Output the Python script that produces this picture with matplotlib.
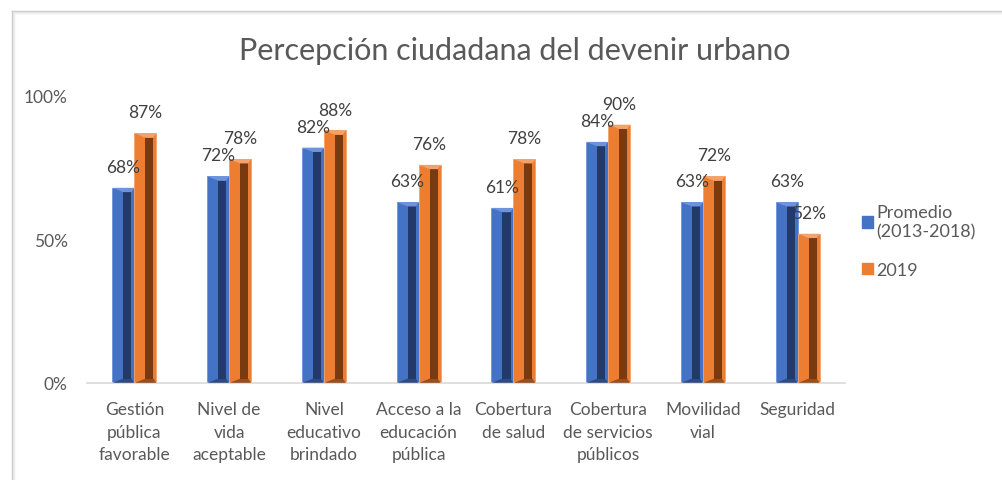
import numpy as np
import matplotlib
matplotlib.use('Agg')
import matplotlib.pyplot as plt
from matplotlib.patches import Polygon, Rectangle
from matplotlib.lines import Line2D

categorias = ['Gestión\npública\nfavorable', 'Nivel de\nvida\naceptable', 'Nivel\neducativo\nbrindado',
              'Acceso a la\neducación\npública', 'Cobertura\nde salud', 'Cobertura\nde servicios\npúblicos',
              'Movilidad\nvial', 'Seguridad']
promedio = [68, 72, 82, 63, 61, 84, 63, 63]
anio_2019 = [87, 78, 88, 76, 78, 90, 72, 52]
series = ['Promedio\n(2013-2018)', '2019']

plt.rcParams['font.family'] = ['Lato', 'DejaVu Sans']
gris = '#595959'

fig = plt.figure(figsize=(10.03, 4.81), dpi=100)
ax = fig.add_axes([0.0867, 0.2017, 0.7558, 0.5967])

x = np.arange(len(categorias))
w = 0.232

def bevel_bars(xs, vals, base, dark, light, label):
    bars = ax.bar(xs, vals, w, color=base, edgecolor=light, linewidth=0.6, label=label, zorder=2)
    for b, v in zip(bars, vals):
        x0 = b.get_x()
        d = 1.5
        # inner dark face
        ax.add_patch(Rectangle((x0 + 0.5 * w, d), 0.37 * w, v - 2 * d, color=dark, zorder=3, lw=0))
        # top facet
        ax.add_patch(Polygon([(x0, v), (x0 + w, v), (x0 + 0.87 * w, v - d), (x0 + 0.5 * w, v - d)],
                             closed=True, color=light, zorder=3, lw=0))
        # bottom facet
        ax.add_patch(Polygon([(x0, 0), (x0 + w, 0), (x0 + 0.87 * w, d), (x0 + 0.5 * w, d)],
                             closed=True, color=dark, alpha=0.7, zorder=3, lw=0))
        ax.annotate(f'{v}%', (b.get_x() + w / 2, v), xytext=(0, 15), textcoords='offset points',
                    ha='center', va='center', fontsize=12.5, color='#404040', zorder=5)
    return bars

b1 = bevel_bars(x - w / 2, promedio, '#4472C4', '#22396A', '#6D94DB', series[0])
b2 = bevel_bars(x + w / 2, anio_2019, '#ED7D31', '#7A3A10', '#F4A26B', series[1])

ax.set_xlim(-0.5, len(categorias) - 0.5)
ax.set_ylim(0, 100)
ax.set_yticks([0, 50, 100])
ax.set_yticklabels(['0%', '50%', '100%'])
ax.set_xticks(x)
ax.set_xticklabels(categorias, linespacing=1.5)
ax.tick_params(axis='both', length=0, labelsize=12.5, colors=gris)
ax.tick_params(axis='y', pad=14)
ax.tick_params(axis='x', pad=13)
for s in ['top', 'right', 'left']:
    ax.spines[s].set_visible(False)
ax.spines['bottom'].set_color('#d9d9d9')
ax.spines['bottom'].set_linewidth(1.2)

fig.text(0.513, 0.893, 'Percepción ciudadana del devenir urbano', ha='center', va='center',
         fontsize=22, color=gris)

h1 = Rectangle((0, 0), 1, 1, color='#4472C4')
h2 = Rectangle((0, 0), 1, 1, color='#ED7D31')
leg = fig.legend([h1, h2], series, loc='upper left', bbox_to_anchor=(0.843, 0.607),
                 frameon=False, handlelength=0.6, handleheight=0.6, handletextpad=0.2,
                 labelspacing=1.25, fontsize=13)
for t in leg.get_texts():
    t.set_color(gris)

# chart frame
for i, c in enumerate(['#c8c8c8', '#e2e2e2', '#efefef', '#f7f7f7']):
    fig.add_artist(Line2D([0.0115 + i * 0.001, 1.0], [0.975 - i * 0.002] * 2, color=c, lw=1))
    fig.add_artist(Line2D([0.0115 + i * 0.001] * 2, [0.0, 0.975 - i * 0.002], color=c, lw=1))

fig.savefig('out.png', dpi=100)
